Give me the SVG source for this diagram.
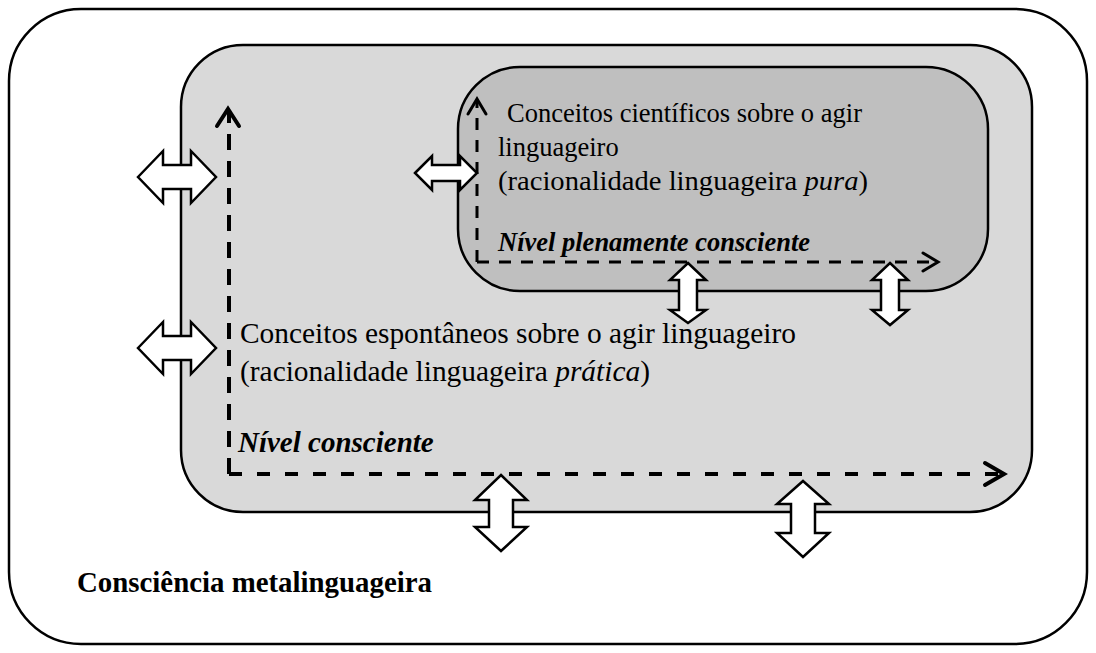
<svg xmlns="http://www.w3.org/2000/svg" width="1096" height="653" viewBox="0 0 1096 653">
<defs>
<style>
.box{stroke:#000;stroke-width:2.5}
.dash{fill:none;stroke:#000;stroke-width:4}
.dv{stroke-dasharray:16,11}
.dh{stroke-dasharray:13,15}
.di{fill:none;stroke:#000;stroke-width:3;stroke-dasharray:12,10}
.head{fill:none;stroke:#000;stroke-width:4;stroke-linecap:round;stroke-linejoin:miter}
.hi{fill:none;stroke:#000;stroke-width:3;stroke-linecap:round;stroke-linejoin:miter}
.dbl{fill:#fff;stroke:#000;stroke-width:2.5;stroke-linejoin:miter}
.t{font-family:"Liberation Serif","Times New Roman",serif;fill:#000}
.m{font-size:29px}
.i{font-size:26.5px}
</style>
</defs>
<g id="outer"><rect class="box" x="9" y="9" width="1078" height="635" rx="72" ry="72" fill="#fff"/>
<text class="t" x="77" y="592" font-size="29" font-weight="bold" textLength="355" lengthAdjust="spacingAndGlyphs">Consciência metalinguageira</text></g>
<g id="middle"><rect class="box" x="181" y="45" width="851" height="467" rx="62" ry="62" fill="#d9d9d9"/>
<text class="t m" x="240" y="343" textLength="556" lengthAdjust="spacingAndGlyphs">Conceitos espontâneos sobre o agir linguageiro</text>
<text class="t m" x="240" y="381" textLength="410" lengthAdjust="spacingAndGlyphs">(racionalidade linguageira <tspan font-style="italic">prática</tspan>)</text>
<text class="t m" x="238" y="452" font-weight="bold" font-style="italic">Nível consciente</text></g>
<g id="inner"><rect class="box" x="458" y="67" width="530" height="224" rx="62" ry="62" fill="#bfbfbf"/>
<text class="t i" x="507" y="122" textLength="355" lengthAdjust="spacingAndGlyphs">Conceitos científicos sobre o agir</text>
<text class="t i" x="498" y="156">linguageiro</text>
<text class="t i" x="498" y="190" textLength="370" lengthAdjust="spacingAndGlyphs">(racionalidade linguageira <tspan font-style="italic">pura</tspan>)</text>
<text class="t i" x="498" y="251" font-weight="bold" font-style="italic">Nível plenamente consciente</text></g>
<g id="connectors">
<path class="dash dv" d="M229 474 V112"/>
<path class="dash dh" d="M229 474 H1000"/>
<path class="head" d="M217 126 L228 109 L239 126"/>
<path class="head" d="M985 463 L1004 474 L985 485"/>
<path class="di" d="M477 262 V100"/>
<path class="di" d="M477 262 H935"/>
<path class="hi" d="M468 114 L477 99 L486 114"/>
<path class="hi" d="M923 253 L938 262 L923 271"/>
<path class="dbl" d="M138 177 L163 151 V165 H191 V151 L216 177 L191 203 V189 H163 V203 Z"/>
<path class="dbl" d="M138 348 L163 322 V336 H191 V322 L216 348 L191 374 V360 H163 V374 Z"/>
<path class="dbl" d="M415 173 L432 156 V165 H460 V156 L477 173 L460 190 V181 H432 V190 Z"/>
<path class="dbl" d="M688 263 L706 280 H697 V310 H706 L688 323 L670 310 H679 V280 H670 Z"/>
<path class="dbl" d="M890 263 L908 280 H899 V310 H908 L890 325 L872 310 H881 V280 H872 Z"/>
<path class="dbl" d="M501 475 L527 500 H513 V527 H527 L501 551 L475 527 H489 V500 H475 Z"/>
<path class="dbl" d="M803 481 L829 504 H815 V533 H829 L803 557 L777 533 H791 V504 H777 Z"/>
</g>
</svg>
